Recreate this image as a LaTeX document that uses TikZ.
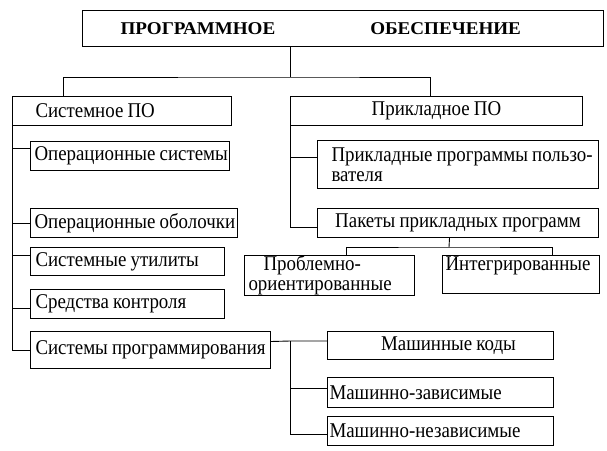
\documentclass[tikz,border=0pt]{standalone}
\usepackage{fontspec}
\setmainfont{Liberation Serif}[FakeStretch=0.9]
\newfontfamily\titlefont{Liberation Serif}[FakeStretch=1.06]
\usepackage{tikz}
\tikzset{
	box/.style={draw, line width=1pt, anchor=north west, inner ysep=0pt, align=left, font=\fontsize{21}{20}\selectfont,
		execute at begin node={\spaceskip=0.2em\xspaceskip=0.2em\rightskip=0pt plus 2em minus 14pt}},
	link/.style={line width=0.9pt},
}

\begin{document}
\begin{tikzpicture}[x=1pt, y=-1pt]
		\useasboundingbox (0,0) rectangle (607,450);
		%заголовок
		\node[box, minimum height=36pt, inner xsep=38pt, text width=445pt, font=\fontsize{18}{18}\titlefont\bfseries] (top) at (82,10) {ПРОГРАММНОЕ\hspace{95pt}ОБЕСПЕЧЕНИЕ};
		%две ветви
		\node[box, minimum height=29pt, inner xsep=23pt, text width=173pt] (sys) at (12,96) {Системное ПО};
		\node[box, minimum height=29pt, inner xsep=0pt, text width=292pt, align=center] (app) at (290,96) {Прикладное ПО};
		%системное ПО
		\node[box, minimum height=29pt, inner xsep=4pt, text width=191pt] (os) at (30,141) {Операционные системы};
		\node[box, minimum height=29pt, inner xsep=4pt, text width=199pt] (shell) at (30,208) {Операционные оболочки};
		\node[box, minimum height=28pt, inner xsep=5pt, text width=184pt] (util) at (30,247) {Системные утилиты};
		\node[box, minimum height=29pt, inner xsep=5pt, text width=184pt] (ctrl) at (30,289) {Средства контроля};
		\node[box, minimum height=37pt, inner xsep=5pt, text width=230pt] (prog) at (30,331) {Системы программирования};
		%прикладное ПО
		\node[box, minimum height=48pt, inner xsep=10pt, text width=261pt] (user) at (317,140) {\hspace*{4pt}Прикладные программы пользо-\\\hspace*{4pt}вателя};
		\node[box, minimum height=29pt, inner xsep=0pt, text width=281pt, align=center] (pkg) at (317,208) {Пакеты прикладных программ};
		\node[box, minimum height=38pt, inner xsep=4pt, text width=162pt] (prob) at (244,255) {\hspace*{15pt}Проблемно-\\ориентированные};
		\node[box, inner xsep=3pt, text width=151pt, text height=15pt, text depth=23pt] (integ) at (442,255) {Интегрированные};
		%языки
		\node[box, minimum height=28pt, inner xsep=0pt, text width=226pt, align=center] (mcode) at (327,331) {\hspace*{16pt}Машинные коды};
		\node[box, minimum height=30pt, inner xsep=2pt, text width=222pt] (mdep) at (327,377) {Машинно-зависимые};
		\node[box, minimum height=29pt, inner xsep=2pt, text width=222pt] (mind) at (327,416) {Машинно-независимые};
		%развилки
		\coordinate (topfork) at (290,77);
		\coordinate (pkgfork) at (449,247);
		\coordinate (progfork) at (290,341);
		%линии от заголовка
		\draw[link] (top.south -| topfork) -- (topfork);
		\draw[link] ([xshift=51pt]sys.north west) |- (topfork) -| ([xshift=140pt]app.north west);
		%левая ветвь
		\draw[link] (prog.west) -| (sys.south west);
		\foreach \n/\s in {os/8, shell/0, util/6, ctrl/-4.5}
			\draw[link] ([yshift=\s pt]\n.west) -| (sys.south west);
		%правая ветвь
		\draw[link] ([yshift=7pt]user.west) -| (app.south west);
		\draw[link] ([yshift=-4.5pt]pkg.west) -| (app.south west);
		%пакеты
		\draw[link] ([xshift=-8.5pt]pkg.south) -- (pkgfork);
		\draw[link] ([xshift=17pt]prob.north) |- (pkgfork) -| ([xshift=31.5pt]integ.north);
		%системы программирования
		\draw[link] ([yshift=8.5pt]prog.east) -- (progfork) -- (progfork -| mcode.west);
		\draw[link] ([yshift=4pt]mdep.west) -| (progfork);
		\draw[link] ([yshift=-3.5pt]mind.west) -| (progfork);
	\end{tikzpicture}
\end{document}
